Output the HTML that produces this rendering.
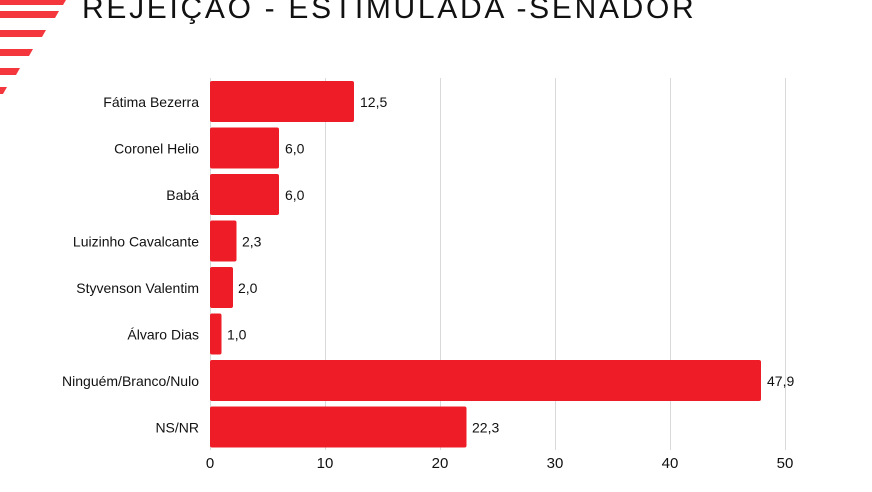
<!DOCTYPE html><html><head><style>
body{margin:0;width:872px;height:492px;background:#fff;overflow:hidden;position:relative;font-family:"Liberation Sans",sans-serif;}
.t{position:absolute;left:82px;top:-8px;font-size:30px;letter-spacing:2.7px;color:#111;white-space:nowrap;}
.l{font-size:14px;fill:#111;}
</style></head><body>
<svg width="872" height="492" style="position:absolute;left:0;top:0">
<g fill="#f4373c">
<polygon points="0,0 66,0 63,5 0,5"/>
<polygon points="0,11 59,11 55,18 0,18"/>
<polygon points="0,30 46,30 42,37 0,37"/>
<polygon points="0,49 33,49 29,56 0,56"/>
<polygon points="0,68 20,68 16,75 0,75"/>
<polygon points="0,87 7,87 3,94 0,94"/>
</g>
<g stroke="#d9d9d9" stroke-width="1">
<line x1="325.5" y1="78" x2="325.5" y2="450"/><line x1="440.5" y1="78" x2="440.5" y2="450"/>
<line x1="555.5" y1="78" x2="555.5" y2="450"/><line x1="670.5" y1="78" x2="670.5" y2="450"/>
<line x1="785.5" y1="78" x2="785.5" y2="450"/><line x1="210.5" y1="78" x2="210.5" y2="450"/>
</g>
<g fill="#ee1c27">
<rect x="210" y="81" width="144" height="41" rx="2"/>
<rect x="210" y="127.5" width="69" height="41" rx="2"/>
<rect x="210" y="174" width="69" height="41" rx="2"/>
<rect x="210" y="220.5" width="26.5" height="41" rx="2"/>
<rect x="210" y="267" width="23" height="41" rx="2"/>
<rect x="210" y="313.5" width="11.5" height="41" rx="2"/>
<rect x="210" y="360" width="551" height="41" rx="2"/>
<rect x="210" y="406.5" width="256.5" height="41" rx="2"/>
</g>
<g class="l" text-anchor="end">
<text x="199" y="107">Fátima Bezerra</text>
<text x="199" y="153.5">Coronel Helio</text>
<text x="199" y="200">Babá</text>
<text x="199" y="246.5">Luizinho Cavalcante</text>
<text x="199" y="293">Styvenson Valentim</text>
<text x="199" y="339.5">Álvaro Dias</text>
<text x="199" y="386">Ninguém/Branco/Nulo</text>
<text x="199" y="432.5">NS/NR</text>
</g>
<g class="l">
<text x="360" y="107">12,5</text>
<text x="285" y="153.5">6,0</text>
<text x="285" y="200">6,0</text>
<text x="242" y="246.5">2,3</text>
<text x="238" y="293">2,0</text>
<text x="227" y="339.5">1,0</text>
<text x="767" y="386">47,9</text>
<text x="472" y="432.5">22,3</text>
</g>
<g class="l" text-anchor="middle" style="font-size:15px">
<text x="210" y="468">0</text><text x="325" y="468">10</text><text x="440" y="468">20</text>
<text x="555" y="468">30</text><text x="670" y="468">40</text><text x="785" y="468">50</text>
</g>
</svg>
<div class="t">REJEIÇÃO - ESTIMULADA -SENADOR</div>
</body></html>
